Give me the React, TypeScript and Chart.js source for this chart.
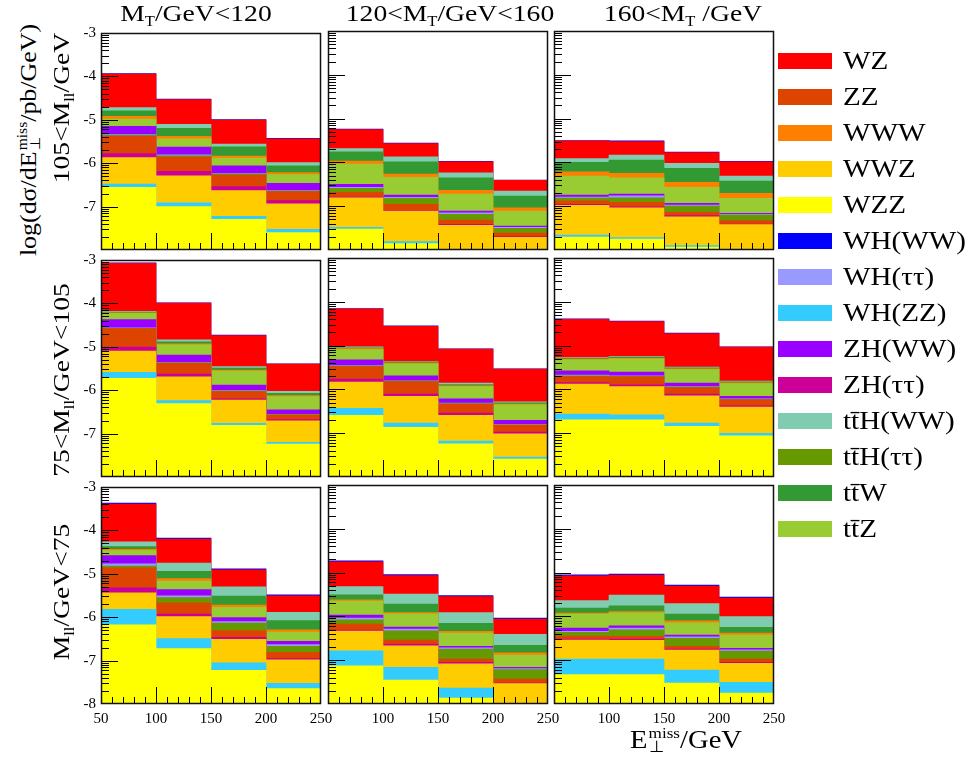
import React, { useEffect, useRef } from "react";
import { Chart, registerables } from "chart.js";

Chart.register(...registerables);

// E_T^miss binning (GeV) and axis ticks
const BIN_LOW = [50, 100, 150, 200];
const BIN_WIDTH = 50;
const X_TICKS = [50, 100, 150, 200, 250];
const Y_TICKS = [-8, -7, -6, -5, -4, -3];
const Y_MIN = -8;
const Y_MAX = -3;

// Cumulative stack tops, log10(dσ/dE / pb/GeV).
// Rows: panels in reading order (Mll band top→bottom, MT band left→right);
// columns: the four E_T^miss bins.
const topWHWW = [
  [-3.935, -4.525, -4.996, -5.429],
  [-5.239, -5.558, -5.976, -6.402],
  [-5.5, -5.505, -5.764, -5.976],
  [-3.066, -3.985, -4.73, -5.391],
  [-4.153, -4.548, -5.072, -5.528],
  [-4.388, -4.441, -4.715, -5.026],
  [-3.372, -4.178, -4.884, -5.485],
  [-4.733, -5.044, -5.523, -6.04],
  [-5.052, -5.036, -5.287, -5.561],
];
const topWZ = [
  [-3.945, -4.535, -5.006, -5.439],
  [-5.249, -5.568, -5.986, -6.412],
  [-5.51, -5.523, -5.774, -5.986],
  [-3.076, -3.995, -4.74, -5.401],
  [-4.163, -4.558, -5.082, -5.538],
  [-4.398, -4.451, -4.725, -5.036],
  [-3.395, -4.2, -4.907, -5.508],
  [-4.755, -5.067, -5.546, -6.062],
  [-5.074, -5.059, -5.31, -5.584],
];
const topTTHWW = [
  [-4.717, -5.105, -5.561, -5.986],
  [-5.682, -5.872, -6.237, -6.655],
  [-5.91, -5.834, -6.024, -6.313],
  [-4.185, -4.839, -5.454, -6.024],
  [-5.029, -5.363, -5.857, -6.283],
  [-5.272, -5.249, -5.492, -5.811],
  [-4.261, -4.755, -5.302, -5.888],
  [-5.318, -5.492, -5.91, -6.412],
  [-5.637, -5.515, -5.705, -6.002],
];
const topTTW = [
  [-4.793, -5.196, -5.622, -6.062],
  [-5.758, -5.986, -6.351, -6.769],
  [-6.0, -5.948, -6.138, -6.427],
  [-4.2, -4.885, -5.492, -6.07],
  [-5.05, -5.378, -5.888, -6.306],
  [-5.29, -5.27, -5.51, -5.83],
  [-4.375, -4.945, -5.515, -6.077],
  [-5.508, -5.72, -6.161, -6.663],
  [-5.812, -5.758, -5.948, -6.252],
];
const topWWW = [
  [-4.922, -5.378, -5.834, -6.214],
  [-5.971, -6.268, -6.64, -7.035],
  [-6.214, -6.252, -6.457, -6.708],
  [-4.216, -4.93, -5.538, -6.123],
  [-5.07, -5.4, -5.918, -6.336],
  [-5.31, -5.29, -5.53, -5.85],
  [-4.436, -5.112, -5.72, -6.29],
  [-5.622, -5.91, -6.343, -6.83],
  [-5.926, -5.888, -6.1, -6.381],
];
const topTTZ = [
  [-4.983, -5.44, -5.88, -6.26],
  [-6.04, -6.343, -6.723, -7.111],
  [-6.313, -6.351, -6.571, -6.822],
  [-4.231, -4.953, -5.561, -6.146],
  [-5.09, -5.416, -5.933, -6.351],
  [-5.325, -5.3, -5.545, -5.865],
  [-4.467, -5.166, -5.774, -6.343],
  [-5.652, -5.94, -6.381, -6.883],
  [-5.948, -5.918, -6.146, -6.427],
];
const topZHWW = [
  [-5.15, -5.63, -6.062, -6.465],
  [-6.503, -6.746, -7.111, -7.453],
  [-6.746, -6.723, -6.936, -7.164],
  [-4.375, -5.188, -5.88, -6.45],
  [-5.325, -5.69, -6.214, -6.708],
  [-5.576, -5.606, -5.857, -6.161],
  [-4.58, -5.363, -6.009, -6.556],
  [-5.971, -6.245, -6.685, -7.164],
  [-6.268, -6.214, -6.427, -6.731],
];
const topWHTT = [
  [-5.34, -5.81, -6.237, -6.632],
  [-6.571, -6.8, -7.149, -7.483],
  [-6.792, -6.761, -6.974, -7.187],
  [-4.565, -5.363, -6.009, -6.556],
  [-5.454, -5.804, -6.313, -6.8],
  [-5.675, -5.69, -5.933, -6.214],
  [-4.771, -5.508, -6.1, -6.632],
  [-6.04, -6.29, -6.716, -7.194],
  [-6.343, -6.268, -6.465, -6.761],
];
const topTTHTT = [
  [-5.355, -5.83, -6.25, -6.645],
  [-6.592, -6.822, -7.187, -7.506],
  [-6.815, -6.807, -6.997, -7.202],
  [-4.572, -5.37, -6.02, -6.563],
  [-5.465, -5.812, -6.325, -6.807],
  [-5.69, -5.7, -5.945, -6.225],
  [-4.824, -5.546, -6.138, -6.67],
  [-6.078, -6.328, -6.746, -7.217],
  [-6.366, -6.306, -6.503, -6.792],
];
const topZZ = [
  [-5.378, -5.857, -6.275, -6.655],
  [-6.685, -6.959, -7.316, -7.612],
  [-6.875, -6.913, -7.141, -7.331],
  [-4.58, -5.378, -6.032, -6.571],
  [-5.477, -5.82, -6.336, -6.815],
  [-5.705, -5.713, -5.956, -6.237],
  [-4.862, -5.667, -6.306, -6.807],
  [-6.176, -6.541, -6.974, -7.43],
  [-6.45, -6.457, -6.685, -6.974],
];
const topZHTT = [
  [-5.781, -6.19, -6.541, -6.86],
  [-6.792, -7.096, -7.415, -7.696],
  [-6.959, -7.012, -7.217, -7.407],
  [-5.006, -5.629, -6.199, -6.678],
  [-5.766, -6.108, -6.541, -6.974],
  [-5.842, -5.895, -6.108, -6.374],
  [-5.325, -5.926, -6.465, -6.951],
  [-6.313, -6.632, -7.05, -7.521],
  [-6.518, -6.518, -6.746, -7.05],
];
const topWWZ = [
  [-5.872, -6.29, -6.632, -6.936],
  [-6.807, -7.11, -7.438, -7.711],
  [-6.982, -7.035, -7.24, -7.422],
  [-5.097, -5.69, -6.23, -6.708],
  [-5.834, -6.161, -6.594, -7.012],
  [-5.88, -5.933, -6.146, -6.404],
  [-5.439, -5.986, -6.511, -6.982],
  [-6.336, -6.67, -7.081, -7.536],
  [-6.541, -6.549, -6.769, -7.073],
];
const topWHZZ = [
  [-6.48, -6.913, -7.225, -7.521],
  [-7.483, -7.81, -8.1, -8.1],
  [-7.658, -7.719, -7.901, -8.1],
  [-5.591, -6.237, -6.761, -7.202],
  [-6.435, -6.769, -7.179, -7.544],
  [-6.564, -6.579, -6.769, -7.005],
  [-5.819, -6.495, -7.05, -7.521],
  [-6.784, -7.164, -7.635, -8.1],
  [-6.974, -6.974, -7.225, -7.506],
];
const topWZZ = [
  [-6.556, -6.997, -7.293, -7.597],
  [-7.52, -7.856, -8.2, -8.2],
  [-7.704, -7.75, -7.932, -8.2],
  [-5.728, -6.306, -6.807, -7.24],
  [-6.594, -6.868, -7.24, -7.59],
  [-6.693, -6.693, -6.845, -7.058],
  [-6.176, -6.723, -7.225, -7.643],
  [-7.126, -7.453, -7.863, -8.2],
  [-7.331, -7.331, -7.521, -7.749],
];

const TT = "tt\u0304";

// Processes from the bottom of the stack upwards.
const STACK = [
  { name: "WZZ", color: "#ffff00", tops: topWZZ },
  { name: "WH(ZZ)", color: "#33ccff", tops: topWHZZ },
  { name: "WWZ", color: "#ffcc00", tops: topWWZ },
  { name: "ZH(ττ)", color: "#cc0099", tops: topZHTT },
  { name: "ZZ", color: "#dd4400", tops: topZZ },
  { name: TT + "H(ττ)", color: "#669900", tops: topTTHTT },
  { name: "WH(ττ)", color: "#9999ff", tops: topWHTT },
  { name: "ZH(WW)", color: "#9900ff", tops: topZHWW },
  { name: TT + "Z", color: "#99cc33", tops: topTTZ },
  { name: "WWW", color: "#ff8000", tops: topWWW },
  { name: TT + "W", color: "#339933", tops: topTTW },
  { name: TT + "H(WW)", color: "#80ccb0", tops: topTTHWW },
  { name: "WZ", color: "#ff0000", tops: topWZ },
  { name: "WH(WW)", color: "#0000ff", tops: topWHWW },
];

const LEGEND_ORDER = [
  "WZ", "ZZ", "WWW", "WWZ", "WZZ", "WH(WW)", "WH(ττ)", "WH(ZZ)",
  "ZH(WW)", "ZH(ττ)", TT + "H(WW)", TT + "H(ττ)", TT + "W", TT + "Z",
];

// Geometry of the 3x3 grid of frames
const COL_LEFT = [101, 328, 554];
const ROW_TOP = [31, 258, 485];
const PANEL_W = 220;
const PANEL_H = 219;
const AXIS_W = 40;
const AXIS_H = 36;
const PAD_T = 12;
const PAD_R = 18;

const SERIF = '"Liberation Serif", "Times New Roman", serif';

// Frame plus ROOT-style inward ticks (log minor ticks on y, 10 GeV minor ticks on x)
const framePlugin = {
  id: "panelFrame",
  afterDatasetsDraw(chart: any) {
    const { ctx, chartArea: a, scales } = chart;
    const x = scales.x;
    const y = scales.y;
    ctx.save();
    ctx.strokeStyle = "#000";
    ctx.lineWidth = 1;
    ctx.beginPath();
    for (let d = Y_MIN; d < Y_MAX; d++) {
      for (let m = 1; m <= 9; m++) {
        if (d === Y_MIN && m === 1) continue;
        const py = Math.round(y.getPixelForValue(d + Math.log10(m))) + 0.5;
        const len = m === 1 ? 17 : 8;
        ctx.moveTo(a.left, py);
        ctx.lineTo(a.left + len, py);
      }
    }
    for (let v = X_TICKS[0] + 10; v < X_TICKS[X_TICKS.length - 1]; v += 10) {
      const px = Math.round(x.getPixelForValue(v)) + 0.5;
      const len = v % 50 === 0 ? 17 : 7;
      ctx.moveTo(px, a.bottom);
      ctx.lineTo(px, a.bottom - len);
    }
    ctx.stroke();
    ctx.lineWidth = 1.5;
    ctx.strokeStyle = "#111";
    ctx.strokeRect(a.left + 0.5, a.top + 0.5, a.width - 1, a.height - 1);
    ctx.restore();
  },
};

function Panel({ index }: { index: number }) {
  const ref = useRef<HTMLCanvasElement | null>(null);
  const row = Math.floor(index / 3);
  const col = index % 3;

  useEffect(() => {
    if (!ref.current) return;
    const datasets = STACK.map((p) => ({
      label: p.name,
      data: BIN_LOW.map((lo, b) => ({
        x: lo + BIN_WIDTH / 2,
        y: [Y_MIN - 1, p.tops[index][b]],
      })),
      backgroundColor: p.color,
      borderWidth: 0,
      grouped: false,
      barPercentage: 1,
      categoryPercentage: 1,
    }));

    const chart = new Chart(ref.current, {
      type: "bar",
      data: { datasets } as any,
      plugins: [framePlugin],
      options: {
        animation: false,
        responsive: false,
        devicePixelRatio: 1,
        layout: { padding: { top: PAD_T, right: PAD_R, left: 0, bottom: 0 } },
        plugins: {
          legend: { display: false },
          tooltip: { enabled: false },
        },
        scales: {
          x: {
            type: "linear",
            min: X_TICKS[0],
            max: X_TICKS[X_TICKS.length - 1],
            offset: false,
            grid: { display: false, drawTicks: false },
            border: { display: false },
            afterBuildTicks: (s: any) => {
              s.ticks = X_TICKS.map((v) => ({ value: v }));
            },
            afterFit: (s: any) => {
              s.height = AXIS_H;
            },
            ticks: {
              display: row === 2,
              autoSkip: false,
              maxRotation: 0,
              padding: 6,
              color: "#000",
              font: { family: SERIF, size: 15 },
              callback: (v: any) => (col > 0 && v === X_TICKS[0] ? "" : String(v)),
            },
          },
          y: {
            type: "linear",
            min: Y_MIN,
            max: Y_MAX,
            grid: { display: false, drawTicks: false },
            border: { display: false },
            afterBuildTicks: (s: any) => {
              s.ticks = Y_TICKS.map((v) => ({ value: v }));
            },
            afterFit: (s: any) => {
              s.width = AXIS_W;
            },
            ticks: {
              display: col === 0,
              autoSkip: false,
              padding: 5,
              color: "#000",
              font: { family: SERIF, size: 15 },
              callback: (v: any) => (row < 2 && v === Y_MIN ? "" : String(v)),
            },
          },
        },
      } as any,
    });
    return () => chart.destroy();
  }, [index, row, col]);

  return (
    <canvas
      ref={ref}
      width={AXIS_W + PANEL_W + PAD_R}
      height={PAD_T + PANEL_H + AXIS_H}
      style={{
        position: "absolute",
        left: COL_LEFT[col] - AXIS_W,
        top: ROW_TOP[row] - PAD_T,
        display: "block",
      }}
    />
  );
}

const sub = (t: string) => (
  <span style={{ fontSize: "0.6em", position: "relative", top: "0.35em" }}>{t}</span>
);

function ColumnTitle({ i }: { i: number }) {
  const centers = [196, 450, 683];
  const content =
    i === 0 ? (
      <>M{sub("T")}/GeV&lt;120</>
    ) : i === 1 ? (
      <>120&lt;M{sub("T")}/GeV&lt;160</>
    ) : (
      <>160&lt;M{sub("T")} /GeV</>
    );
  return (
    <div
      style={{
        position: "absolute",
        left: centers[i],
        top: -2,
        transform: "translateX(-50%) scaleX(1.15)",
        whiteSpace: "nowrap",
        fontSize: 24,
        lineHeight: "30px",
      }}
    >
      {content}
    </div>
  );
}

function Rotated({ cx, cy, sx, children }: { cx: number; cy: number; sx: number; children: any }) {
  return (
    <div
      style={{
        position: "absolute",
        left: cx,
        top: cy,
        transform: `translate(-50%, -50%) rotate(-90deg) scaleX(${sx})`,
        whiteSpace: "nowrap",
        fontSize: 24,
        lineHeight: "30px",
      }}
    >
      {children}
    </div>
  );
}

// E with "miss" as superscript and ⊥ as subscript stacked after it
const Emiss = ({ lift }: { lift: number }) => (
  <span style={{ display: "inline-block" }}>
    E
    <span
      style={{
        display: "inline-flex",
        flexDirection: "column",
        fontSize: "0.6em",
        lineHeight: 0.9,
        verticalAlign: lift,
        marginLeft: 1,
        textAlign: "left",
      }}
    >
      <span>miss</span>
      <span>⊥</span>
    </span>
  </span>
);

export default function App() {
  return (
    <div
      style={{
        position: "absolute",
        left: 0,
        top: 0,
        width: 975,
        height: 767,
        background: "#fff",
        fontFamily: SERIF,
        color: "#000",
        overflow: "hidden",
      }}
    >
      {Array.from({ length: 9 }, (_, i) => (
        <Panel key={i} index={i} />
      ))}

      {[0, 1, 2].map((i) => (
        <ColumnTitle key={i} i={i} />
      ))}

      <Rotated cx={28} cy={140} sx={1.08}>
        log(dσ/d<Emiss lift={9} />/pb/GeV)
      </Rotated>
      <Rotated cx={62} cy={108} sx={1.15}>
        105&lt;M{sub("ll")}/GeV
      </Rotated>
      <Rotated cx={62} cy={380} sx={1.15}>
        75&lt;M{sub("ll")}/GeV&lt;105
      </Rotated>
      <Rotated cx={62} cy={592} sx={1.15}>
        M{sub("ll")}/GeV&lt;75
      </Rotated>

      <div
        style={{
          position: "absolute",
          left: 630,
          top: 724,
          whiteSpace: "nowrap",
          fontSize: 26,
          lineHeight: "32px",
          transform: "scaleX(1.1)",
          transformOrigin: "left center",
        }}
      >
        <Emiss lift={10} />/GeV
      </div>

      {LEGEND_ORDER.map((name, k) => {
        const p = STACK.find((s) => s.name === name)!;
        const cy = 61 + 36 * k;
        return (
          <div key={name}>
            <div
              style={{
                position: "absolute",
                left: 778,
                top: cy - 8,
                width: 54,
                height: 16,
                background: p.color,
              }}
            />
            <div
              style={{
                position: "absolute",
                left: 843,
                top: cy - 16,
                fontSize: 26,
                lineHeight: "32px",
                whiteSpace: "nowrap",
                transform: "scaleX(1.12)",
                transformOrigin: "left center",
              }}
            >
              {name}
            </div>
          </div>
        );
      })}
    </div>
  );
}
